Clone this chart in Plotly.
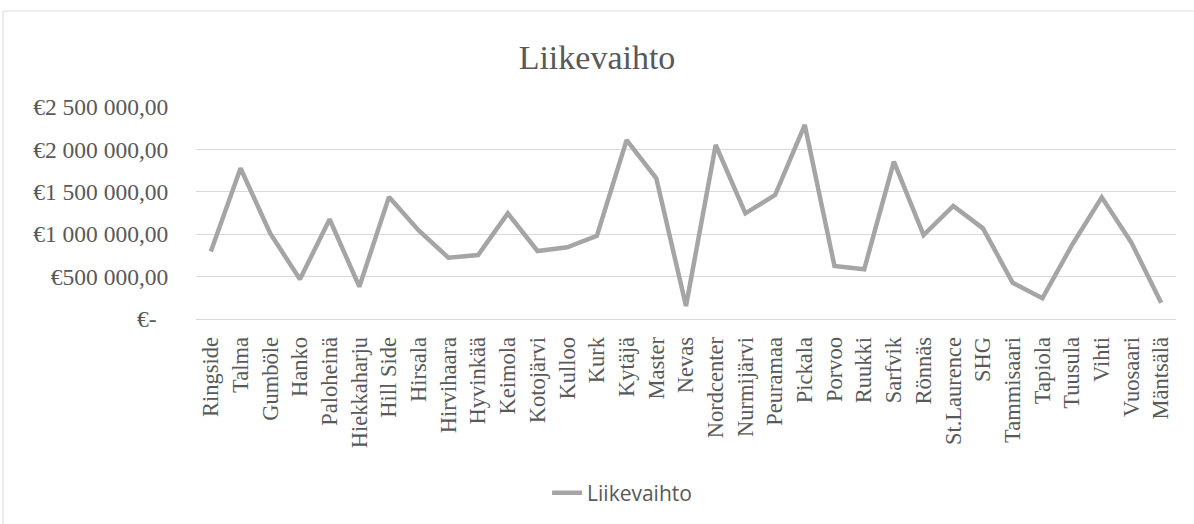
import plotly.graph_objects as go

categories = ["Ringside", "Talma", "Gumböle", "Hanko", "Paloheinä", "Hiekkaharju",
              "Hill Side", "Hirsala", "Hirvihaara", "Hyvinkää", "Keimola", "Kotojärvi",
              "Kulloo", "Kurk", "Kytäjä", "Master", "Nevas", "Nordcenter", "Nurmijärvi",
              "Peuramaa", "Pickala", "Porvoo", "Ruukki", "Sarfvik", "Rönnäs",
              "St.Laurence", "SHG", "Tammisaari", "Tapiola", "Tuusula", "Vihti",
              "Vuosaari", "Mäntsälä"]
liikevaihto = [795000, 1778000, 1010000, 468000, 1176000, 381000,
               1440000, 1045000, 723000, 755000, 1246000, 802000,
               845000, 982000, 2110000, 1659000, 153000, 2052000, 1246000,
               1462000, 2288000, 625000, 586000, 1855000, 990000,
               1333000, 1069000, 428000, 244000, 873000, 1435000,
               900000, 192000]
tick_values = [0, 500000, 1000000, 1500000, 2000000, 2500000]
tick_labels = ["€-\u00a0\u00a0", "€500 000,00", "€1 000 000,00", "€1 500 000,00",
               "€2 000 000,00", "€2 500 000,00"]

W, H = 1194, 524
L, R, T, B = 196, 18, 107, 205
pw, ph = W - L - R, H - T - B

serif = "Liberation Serif, Times New Roman, serif"
txt = "#595959"

fig = go.Figure()
fig.add_trace(go.Scatter(
    x=categories, y=liikevaihto, mode="lines", name="Liikevaihto",
    line=dict(color="#A5A5A5", width=4.5),
))

fig.update_layout(
    width=W, height=H,
    margin=dict(l=L, r=R, t=T, b=B, autoexpand=False),
    paper_bgcolor="white", plot_bgcolor="white",
    title=dict(text="Liikevaihto", x=0.5, xanchor="center", y=1 - 57 / H,
               yanchor="middle", yref="container",
               font=dict(family=serif, size=34, color=txt)),
    showlegend=True,
    legend=dict(orientation="h", xref="container", yref="container",
                x=0.521, xanchor="center", y=1 - 493 / H, yanchor="middle",
                font=dict(family="Open Sans, Liberation Sans, sans-serif", size=21, color=txt),
                bgcolor="rgba(0,0,0,0)"),
    xaxis=dict(
        type="category", tickangle=-90,
        tickfont=dict(family=serif, size=22.5, color=txt),
        showgrid=False, showline=True, linecolor="#D9D9D9", linewidth=1,
        ticks="outside", ticklen=8, tickcolor="rgba(0,0,0,0)",
        range=[-0.5, len(categories) - 0.5], fixedrange=True,
    ),
    yaxis=dict(
        range=[0, 2500000], tickvals=tick_values, ticktext=tick_labels,
        tickfont=dict(family=serif, size=23.5, color=txt),
        showgrid=True, gridcolor="#D9D9D9", gridwidth=1,
        zeroline=False, showline=False,
        ticks="outside", ticklen=22, tickcolor="rgba(0,0,0,0)",
        fixedrange=True,
    ),
)

# chart-area border (Excel style)
fig.add_shape(type="rect", xref="paper", yref="paper",
              x0=(3 - L) / pw, x1=(W + 10 - L) / pw,
              y0=-(H + 10 - (T + ph)) / ph, y1=(T + ph - 11) / ph,
              line=dict(color="#D9D9D9", width=1), fillcolor="rgba(0,0,0,0)",
              layer="below")

fig.write_html("out.html")
